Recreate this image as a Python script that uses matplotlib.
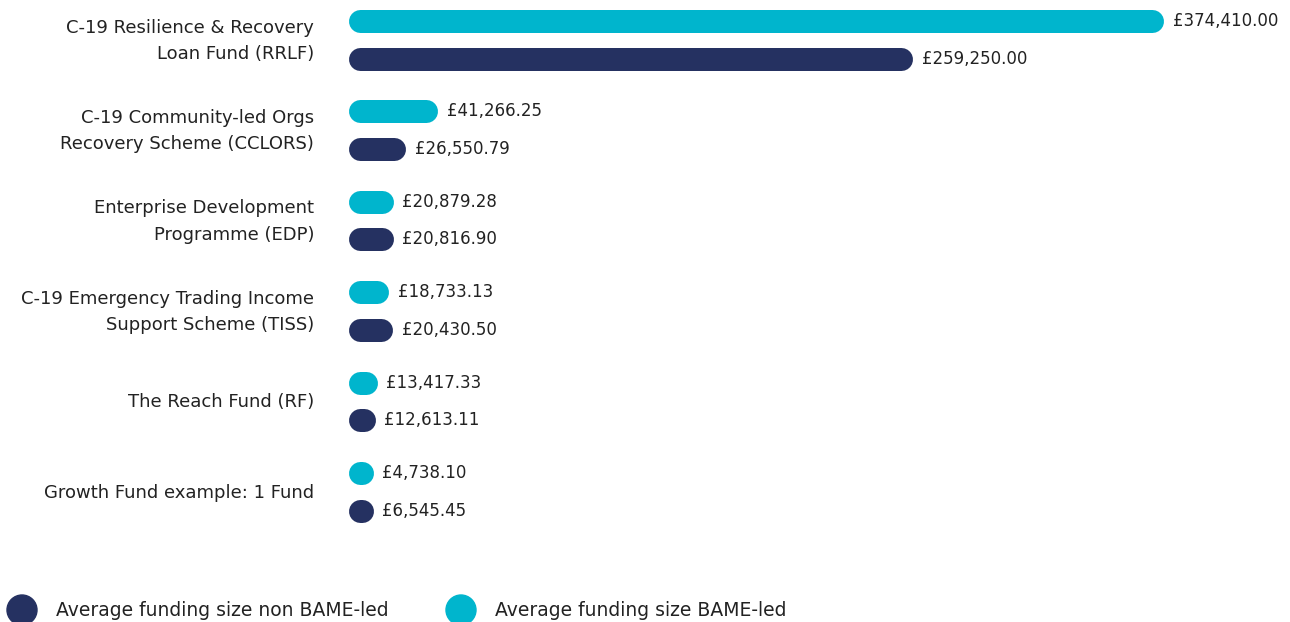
import matplotlib.pyplot as plt
from matplotlib.patches import Ellipse

#########################################################
# Data
#########################################################

funds = [
    "C-19 Resilience & Recovery\nLoan Fund (RRLF)",
    "C-19 Community-led Orgs\nRecovery Scheme (CCLORS)",
    "Enterprise Development\nProgramme (EDP)",
    "C-19 Emergency Trading Income\nSupport Scheme (TISS)",
    "The Reach Fund (RF)",
    "Growth Fund example: 1 Fund",
]
bame_led = [374410.00, 41266.25, 20879.28, 18733.13, 13417.33, 4738.10]
non_bame_led = [259250.00, 26550.79, 20816.90, 20430.50, 12613.11, 6545.45]

legend_labels = ["Average funding size non BAME-led", "Average funding size BAME-led"]

CYAN = "#00b5cd"
NAVY = "#253161"
TEXT = "#222222"

#########################################################
# Layout (pixels)
#########################################################

W, H, DPI = 1290, 622, 100
X0 = 348            # left edge of bars
SCALE = 0.002179    # px per pound
BAR_H = 23          # bar thickness in px
ROW0, ROW_STEP, PAIR_OFF = 21, 90.4, 37.5

plt.rcParams['font.family'] = ['DejaVu Sans']

fig = plt.figure(figsize=(W / DPI, H / DPI), dpi=DPI)
ax = fig.add_axes([X0 / W, 0, 1 - X0 / W, 1])
ax.set_xlim(0, (W - X0) / SCALE)
ax.set_ylim(H, 0)
ax.axis('off')

r = (BAR_H / 2) / SCALE   # cap radius in data units
lw = BAR_H * 72 / DPI


def draw_bar(y, v, color):
    start = r
    end = max(v - r, r + 1000)
    ax.plot([start, end], [y, y], color=color, lw=lw, solid_capstyle='round')
    ax.annotate(f"£{v:,.2f}", xy=(end + r, y), xytext=(9, 0),
                textcoords='offset pixels', va='center', ha='left',
                fontsize=12, color=TEXT)


for i, name in enumerate(funds):
    y1 = ROW0 + ROW_STEP * i
    y2 = y1 + PAIR_OFF
    draw_bar(y1, bame_led[i], CYAN)
    draw_bar(y2, non_bame_led[i], NAVY)
    fig.text(314 / W, 1 - ((y1 + y2) / 2 + 1) / H, name, ha='right', va='center',
             fontsize=13, color=TEXT, linespacing=1.6)

# legend
for cx, tx, col, lab in [(22, 56, NAVY, legend_labels[0]), (461, 495, CYAN, legend_labels[1])]:
    fig.add_artist(Ellipse((cx / W, 1 - 610 / H), 30 / W, 30 / H,
                           transform=fig.transFigure, color=col))
    fig.text(tx / W, 1 - 611 / H, lab, ha='left', va='center', fontsize=13.5, color=TEXT)

fig.savefig("out.png", dpi=DPI)
